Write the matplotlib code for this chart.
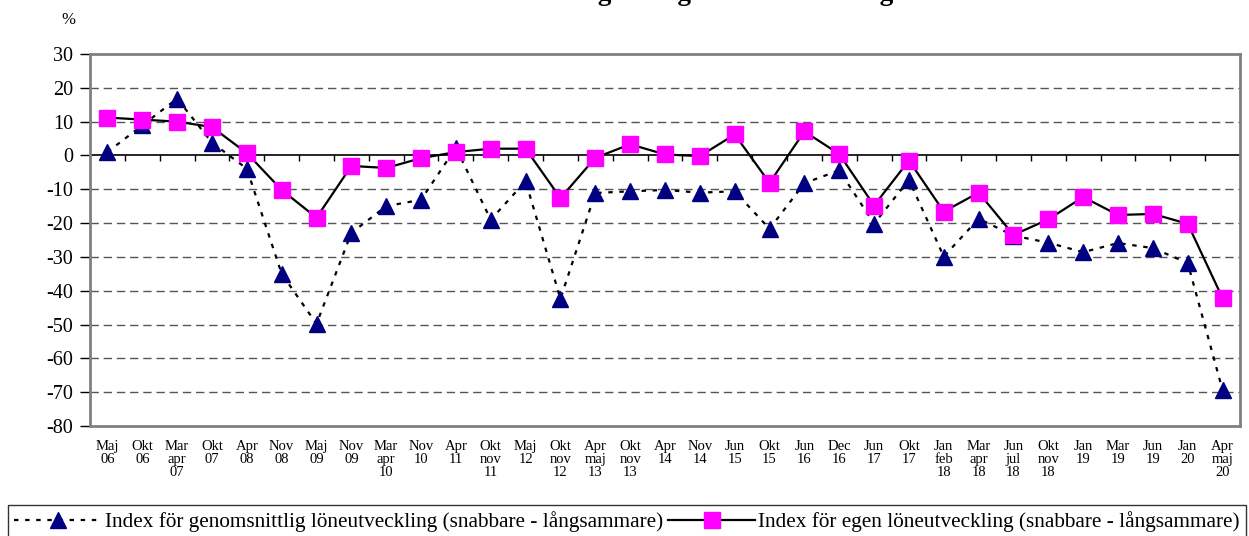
import numpy as np
import matplotlib
matplotlib.use('Agg')
import matplotlib.pyplot as plt

# kategorier (mättillfällen) och index-värden i procent
cats = ['Maj\n06', 'Okt\n06', 'Mar\napr\n07', 'Okt\n07', 'Apr\n08', 'Nov\n08',
        'Maj\n09', 'Nov\n09', 'Mar\napr\n10', 'Nov\n10', 'Apr\n11', 'Okt\nnov\n11',
        'Maj\n12', 'Okt\nnov\n12', 'Apr\nmaj\n13', 'Okt\nnov\n13', 'Apr\n14',
        'Nov\n14', 'Jun\n15', 'Okt\n15', 'Jun\n16', 'Dec\n16', 'Jun\n17', 'Okt\n17',
        'Jan\nfeb\n18', 'Mar\napr\n18', 'Jun\njul\n18', 'Okt\nnov\n18', 'Jan\n19',
        'Mar\n19', 'Jun\n19', 'Jan\n20', 'Apr\nmaj\n20']
snitt = [1.0, 8.9, 16.8, 3.8, -3.9, -35.0, -49.8, -22.9, -15.0, -13.1, 2.3,
         -19.0, -7.6, -42.4, -11.1, -10.6, -10.2, -11.0, -10.6, -21.7, -8.2,
         -4.4, -20.2, -7.2, -29.9, -18.7, -23.7, -25.8, -28.6, -25.9, -27.4,
         -31.8, -69.4]
egen = [11.2, 10.6, 10.0, 8.4, 0.7, -10.2, -18.4, -3.1, -3.7, -0.8, 1.0, 2.0,
        2.0, -12.6, -0.7, 3.3, 0.3, -0.2, 6.2, -8.1, 7.1, 0.4, -14.8, -1.5,
        -16.6, -11.0, -23.5, -18.9, -12.3, -17.6, -17.3, -20.2, -42.2]
yticks = list(range(-80, 31, 10))

title = 'SACO: Genomsnittlig och egen löneutveckling'
lab_snitt = 'Index för genomsnittlig löneutveckling (snabbare - långsammare)'
lab_egen = 'Index för egen löneutveckling (snabbare - långsammare)'

plt.rcParams['font.family'] = ['Liberation Serif', 'DejaVu Serif']

fig = plt.figure(figsize=(12.49, 5.36), dpi=100)
ax = fig.add_axes([90 / 1249, 1 - 426 / 536, 1150 / 1249, 372 / 536])

x = np.arange(len(cats))
ax.plot(x, snitt, color='black', lw=1.6, ls=(0, (2, 3)), marker='^',
        ms=11, mfc='#000080', mec='#000080', label=lab_snitt, zorder=3)
ax.plot(x, egen, color='black', lw=1.6, ls='-', marker='s',
        ms=11, mfc='#FF00FF', mec='#FF00FF', label=lab_egen, zorder=4)

ax.set_xlim(-0.5, len(cats) - 0.5)
ax.set_ylim(-80, 30)
ax.set_yticks(yticks)
ax.set_yticklabels([str(v) for v in yticks], fontsize=14.5)
ax.tick_params(axis='y', length=7, width=1, color='black', pad=5)

ax.set_xticks(x)
ax.set_xticklabels(cats, fontsize=10.5, va='top', ha='center')
ax.tick_params(axis='x', length=0, pad=10)
for t in ax.get_xticklabels():
    t.set_linespacing(1.0)

# stödlinjer och kategoriaxel vid 0
for v in yticks[1:-1]:
    if v == 0:
        continue
    ax.axhline(v, color='#555555', lw=1, ls=(0, (6, 3.5)), zorder=1)
ax.axhline(0, color='black', lw=1.2, zorder=2)
ax.vlines(np.arange(len(cats) + 1) - 0.5, -1.6, 0, color='black', lw=1, zorder=2)

for s in ax.spines.values():
    s.set_color('#808080')
    s.set_linewidth(2)

fig.text(68 / 1249, 1 - 20 / 536, '%', fontsize=12, ha='center', va='center')
# rubriken är avskuren i originalet, bara nederkanten syns
fig.text(0.5, 1.0, title, fontsize=19.5, fontweight='bold',
         ha='center', va='baseline')

leg = fig.legend(loc='upper left', bbox_to_anchor=(8 / 1249, 1 - 505 / 536),
                 ncol=2, fontsize=15.3, frameon=True, fancybox=False,
                 edgecolor='black', handlelength=4.1, handletextpad=0.15,
                 columnspacing=0.25, borderpad=0.3, borderaxespad=0)
leg.get_frame().set_linewidth(1)

fig.savefig('out.png', dpi=100)
